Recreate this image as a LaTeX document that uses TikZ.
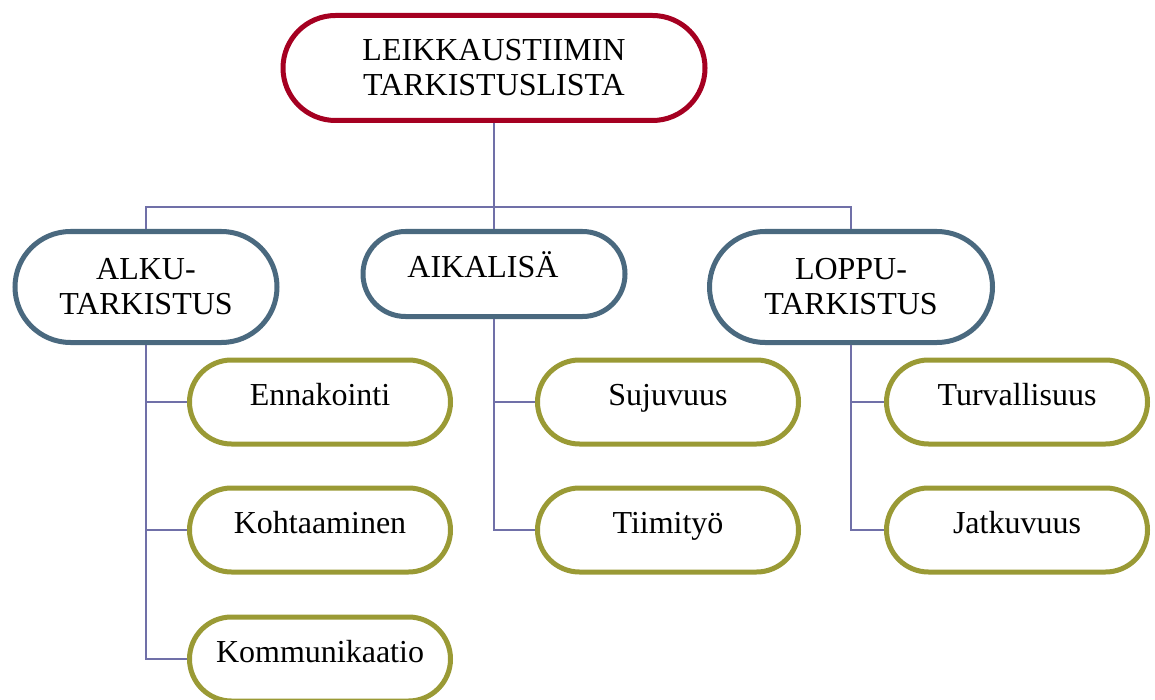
\documentclass[tikz,border=0pt]{standalone}
\usepackage{fontspec}
\setmainfont{Liberation Serif}
\usetikzlibrary{shapes.misc}
\definecolor{listred}{HTML}{A50021}
\definecolor{phaseblue}{HTML}{4A697F}
\definecolor{itemolive}{HTML}{9A9A35}
\definecolor{wireblue}{HTML}{7070A8}
\begin{document}
\begin{tikzpicture}[x=0.5pt,y=-0.5pt,
  box/.style={rounded rectangle,draw,line width=2.5pt,fill=white,align=center,inner sep=0pt,font=\fontsize{16}{17.5}\selectfont},
  head/.style={box,draw=listred,minimum width=211pt,minimum height=52.5pt},
  phase/.style={box,draw=phaseblue,minimum width=131pt,minimum height=55.5pt},
  item/.style={box,draw=itemolive,minimum width=130.5pt,minimum height=42pt,text height=10.6pt,text depth=7pt},
  wire/.style={draw=wireblue,line width=0.8pt}]
\useasboundingbox (0,0) rectangle (1155,700);
% top
\node[head] (lista) at (494,68) {LEIKKAUSTIIMIN\\TARKISTUSLISTA};
% phases
\node[phase] (alku) at (146,287) {ALKU-\\TARKISTUS};
\node[phase,minimum height=42.5pt,text height=10.6pt,text depth=7pt] (aika) at (494,274) {AIKALISÄ\hspace*{11pt}};
\node[phase,minimum width=141.5pt] (loppu) at (851,287) {LOPPU-\\TARKISTUS};
% items
\node[item] (enna) at (320,402) {Ennakointi};
\node[item] (kohta) at (320,530) {Kohtaaminen};
\node[item] (kommu) at (320,659) {Kommunikaatio};
\node[item] (suju) at (668,402) {Sujuvuus};
\node[item] (tiimi) at (668,530) {Tiimityö};
\node[item] (turva) at (1017,402) {Turvallisuus};
\node[item] (jatko) at (1017,530) {Jatkuvuus};
% connectors
\coordinate (bus) at (494,207);
\draw[wire] (lista.south) -- (bus) -| (alku.north);
\draw[wire] (bus) -- (aika.north);
\draw[wire] (bus) -| (loppu.north);
\draw[wire] (alku.south) |- (enna.west);
\draw[wire] (alku.south) |- (kohta.west);
\draw[wire] (alku.south) |- (kommu.west);
\draw[wire] (aika.south) |- (suju.west);
\draw[wire] (aika.south) |- (tiimi.west);
\draw[wire] (loppu.south) |- (turva.west);
\draw[wire] (loppu.south) |- (jatko.west);
\end{tikzpicture}
\end{document}
